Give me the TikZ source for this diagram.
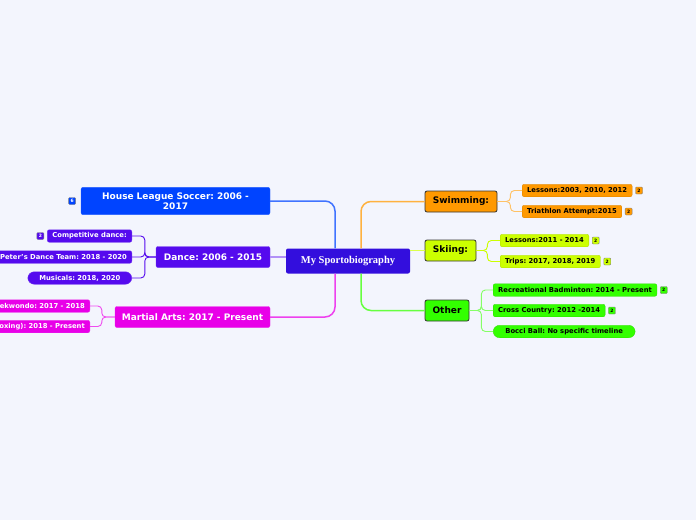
\documentclass[tikz,border=0pt]{standalone}
\usepackage{fontspec}
\setmainfont{DejaVu Sans}
\newfontfamily\titlefont{Liberation Serif}
\usetikzlibrary{positioning}
\frenchspacing
\definecolor{BgTint}{RGB}{243,245,253}
\definecolor{RootViolet}{RGB}{51,14,221}
\definecolor{SoccerBlue}{RGB}{0,68,255}
\definecolor{DanceViolet}{RGB}{85,10,238}
\definecolor{MartialPink}{RGB}{232,0,232}
\definecolor{SwimOrange}{RGB}{255,153,0}
\definecolor{SkiLime}{RGB}{204,255,0}
\definecolor{OtherGreen}{RGB}{51,255,0}
\tikzset{
  topic/.style={rounded corners=2pt,minimum height=21pt,inner xsep=5pt,
    font=\fontsize{9}{10.5}\selectfont\bfseries},
  lefttopic/.style={topic,fill=#1,draw=#1!85!white,text=white},
  righttopic/.style={topic,fill=#1,draw=black!80,line width=0.8pt,text=black},
  subtopic/.style={rounded corners=2pt,minimum height=12.5pt,inner ysep=1pt,
    inner xsep=5pt,font=\fontsize{6.8}{7.5}\selectfont\bfseries},
  leftsub/.style={subtopic,fill=#1,draw=#1!85!white,text=white},
  rightsub/.style={subtopic,fill=#1,draw=#1!85!black,line width=0.3pt,text=black},
  pill/.style={rounded corners=6.5pt},
  badge/.style={draw=black!50,fill=#1,rounded corners=1pt,minimum size=7pt,
    inner sep=0pt,line width=0.4pt,font=\fontsize{4.5}{4.5}\selectfont\bfseries},
  mainlink/.style={draw=#1,line width=1.5pt,rounded corners=10pt},
  sublink/.style={draw=#1,line width=0.9pt,rounded corners=4pt},
}

\begin{document}
\begin{tikzpicture}[x=1pt,y=-1pt]
\fill[BgTint] (0,0) rectangle (696,520);
\useasboundingbox (0,0) rectangle (696,520);

% centre
\node[fill=RootViolet,rounded corners=2pt,text=white,minimum width=124pt,
  minimum height=25pt,font=\titlefont\fontsize{10.5}{12}\selectfont\bfseries]
  (root) at (348,261) {My Sportobiography};

% left branches
\node[lefttopic=SoccerBlue,text width=179pt,align=center,inner ysep=5pt]
  (soccer) at (175.5,201) {House League Soccer: 2006 -\\2017};
\node[badge=SoccerBlue,text=white,left=5pt of soccer] (soccerbadge) {6};

\node[lefttopic=DanceViolet,minimum width=114pt] (dance) at (213,257) {Dance: 2006 - 2015};
\node[leftsub=DanceViolet,anchor=east] (comp) at (132,236) {Competitive dance:};
\node[badge=DanceViolet,text=white,left=3pt of comp] (compbadge) {2};
\node[leftsub=DanceViolet,anchor=east] (peter) at (132,257) {Peter's Dance Team: 2018 - 2020};
\node[leftsub=DanceViolet,pill,anchor=east,minimum width=104pt] (musicals) at (132,278) {Musicals: 2018, 2020};

\node[lefttopic=MartialPink,minimum width=155pt] (martial) at (192.5,317) {Martial Arts: 2017 - Present};
\node[leftsub=MartialPink,anchor=east] (tkd) at (90,306) {Taekwondo: 2017 - 2018};
\node[leftsub=MartialPink,anchor=east] (kick) at (90,326.5) {(Kickboxing): 2018 - Present};

% right branches
\node[righttopic=SwimOrange,minimum width=72pt] (swim) at (461,201.5) {Swimming:};
\node[rightsub=SwimOrange,anchor=west] (swimles) at (522,190.5) {Lessons:2003, 2010, 2012};
\node[badge=SwimOrange,right=3pt of swimles] (swimlesbadge) {2};
\node[rightsub=SwimOrange,anchor=west] (tri) at (522,211.5) {Triathlon Attempt:2015};
\node[badge=SwimOrange,right=3pt of tri] (tribadge) {2};

\node[righttopic=SkiLime,minimum width=51pt] (ski) at (450.5,250.5) {Skiing:};
\node[rightsub=SkiLime,anchor=west] (skiles) at (500,240.5) {Lessons:2011 - 2014};
\node[badge=SkiLime,right=3pt of skiles] (skilesbadge) {2};
\node[rightsub=SkiLime,anchor=west] (trips) at (500,261.5) {Trips: 2017, 2018, 2019};
\node[badge=SkiLime,right=3pt of trips] (tripsbadge) {2};

\node[righttopic=OtherGreen,minimum width=44pt] (other) at (447,310.5) {Other};
\node[rightsub=OtherGreen,anchor=west] (badm) at (493,290) {Recreational Badminton: 2014 - Present};
\node[badge=OtherGreen,right=3pt of badm] (badmbadge) {2};
\node[rightsub=OtherGreen,anchor=west] (cross) at (493,310.5) {Cross Country: 2012 -2014};
\node[badge=OtherGreen,right=3pt of cross] (crossbadge) {2};
\node[rightsub=OtherGreen,pill,anchor=west,minimum width=142pt] (bocci) at (493,331.5) {Bocci Ball: No specific timeline};

% main links
\begin{scope}[on background layer/.try]
\draw[mainlink=SoccerBlue!75] (soccer.east) -| ([xshift=-13pt]root.north);
\draw[mainlink=DanceViolet!45] (dance.east) -- (dance.east -| root.west);
\draw[mainlink=MartialPink!75] (martial.east) -| ([xshift=-13pt]root.south);
\draw[mainlink=SwimOrange!75] (swim.west) -| ([xshift=13pt]root.north);
\draw[mainlink=SkiLime!70] (ski.west) -- (ski.west -| root.east);
\draw[mainlink=OtherGreen!75] (other.west) -| ([xshift=13pt]root.south);
\end{scope}

% sub links
\draw[sublink=DanceViolet] (dance.west) -- ++(-11pt,0) |- (comp.east);
\draw[sublink=DanceViolet] (dance.west) -- ++(-11pt,0) |- (peter.east);
\draw[sublink=DanceViolet] (dance.west) -- ++(-11pt,0) |- (musicals.east);
\draw[sublink=MartialPink!70] (martial.west) -- ++(-13pt,0) |- (tkd.east);
\draw[sublink=MartialPink!70] (martial.west) -- ++(-13pt,0) |- (kick.east);
\draw[sublink=SwimOrange!60] (swim.east) -- ++(13pt,0) |- (swimles.west);
\draw[sublink=SwimOrange!60] (swim.east) -- ++(13pt,0) |- (tri.west);
\draw[sublink=SkiLime] (ski.east) -- ++(11pt,0) |- (skiles.west);
\draw[sublink=SkiLime] (ski.east) -- ++(11pt,0) |- (trips.west);
\draw[sublink=OtherGreen!60] (other.east) -- ++(12pt,0) |- (badm.west);
\draw[sublink=OtherGreen!60] (other.east) -- ++(12pt,0) |- (cross.west);
\draw[sublink=OtherGreen!60] (other.east) -- ++(12pt,0) |- (bocci.west);
\end{tikzpicture}
\end{document}
